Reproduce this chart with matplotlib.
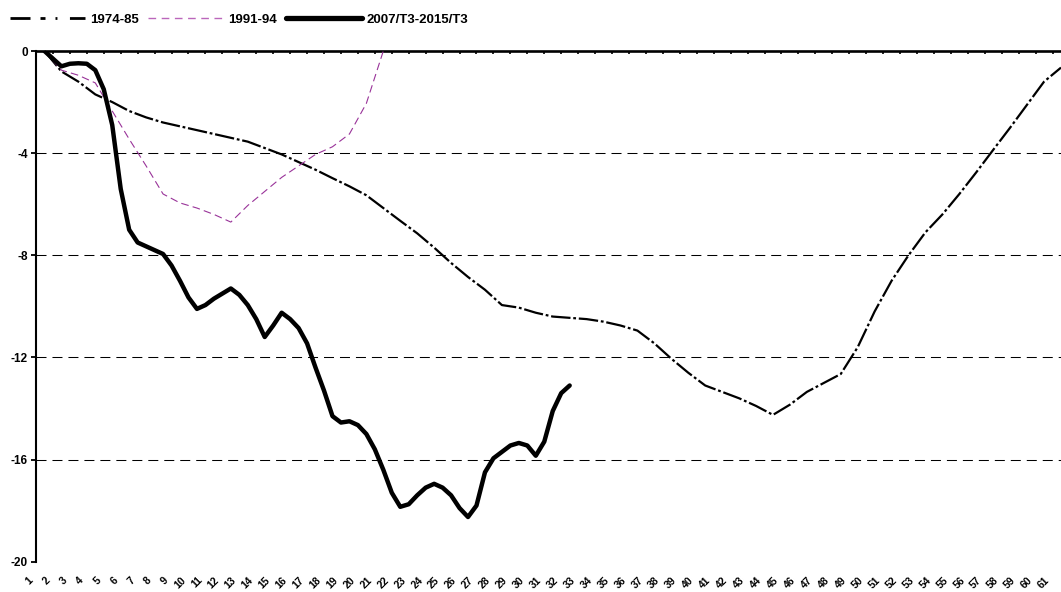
import numpy as np
import matplotlib
matplotlib.use("Agg")
import matplotlib.pyplot as plt
from matplotlib.lines import Line2D
from matplotlib.transforms import ScaledTranslation

plt.rcParams['font.family'] = ['Liberation Sans', 'DejaVu Sans']
plt.rcParams['font.weight'] = 'bold'
plt.rcParams['lines.scale_dashes'] = False

# ─── data ─────────────────────────────────────────────────────────────────
categories = list(range(1, 62))

# 1974-85, one value per category
s7485 = [0.0, -0.8, -1.2, -1.7, -2.0, -2.35, -2.6, -2.8, -2.95, -3.1,
         -3.25, -3.4, -3.55, -3.8, -4.05, -4.35, -4.65, -4.98, -5.3, -5.65,
         -6.15, -6.65, -7.14, -7.7, -8.3, -8.85, -9.35, -9.95, -10.05, -10.25,
         -10.4, -10.45, -10.5, -10.6, -10.75, -10.95, -11.45, -12.05, -12.6, -13.1,
         -13.35, -13.6, -13.9, -14.25, -13.85, -13.35, -13.0, -12.65, -11.6, -10.2,
         -9.0, -8.0, -7.1, -6.4, -5.6, -4.75, -3.87, -3.0, -2.1, -1.2,
         -0.65]

# 1991-94, categories 1..21
s9194 = [0.0, -0.75, -0.95, -1.25, -2.35, -3.45, -4.5, -5.6, -5.95, -6.15,
         -6.4, -6.7, -6.05, -5.5, -4.95, -4.5, -4.05, -3.75, -3.25, -2.05,
         0.0]

# 2007/T3-2015/T3, read every half category
x0715 = [1 + 0.5 * k for k in range(63)]
s0715 = [0.0, -0.3, -0.6, -0.5, -0.48, -0.5, -0.75, -1.5, -2.9, -5.4,
         -7.0, -7.5, -7.65, -7.8, -7.95, -8.4, -9.0, -9.65, -10.1, -9.95,
         -9.7, -9.5, -9.3, -9.55, -9.95, -10.5, -11.2, -10.75, -10.25, -10.5,
         -10.85, -11.45, -12.4, -13.3, -14.3, -14.55, -14.5, -14.65, -15.0, -15.6,
         -16.4, -17.3, -17.85, -17.75, -17.4, -17.1, -16.95, -17.1, -17.4, -17.9,
         -18.25, -17.8, -16.5, -15.95, -15.7, -15.45, -15.35, -15.45, -15.85, -15.3,
         -14.1, -13.4, -13.1]

yticks = [0, -4, -8, -12, -16, -20]
labels = ["1974-85", "1991-94", "2007/T3-2015/T3"]

# ─── figure ───────────────────────────────────────────────────────────────
fig = plt.figure(figsize=(10.61, 5.92), dpi=100)
ax = fig.add_axes([36 / 1061, 1 - 561.7 / 592, 1 - 36 / 1061, (561.7 - 51) / 592])

for y in yticks[1:-1]:
    ax.axhline(y, color="black", lw=0.75, dashes=(7.2, 4.3), zorder=1)

ax.plot(categories, s7485, color="black", lw=1.6, dashes=(14, 2, 2, 2),
        clip_on=False, zorder=3)
ax.plot(categories[:len(s9194)], s9194, color="#993399", lw=0.8,
        dashes=(5.5, 3), zorder=3)
ax.plot(x0715, s0715, color="black", lw=3.2, solid_capstyle="round",
        solid_joinstyle="round", zorder=4)

ax.set_xlim(0.5, 61.0)
ax.set_ylim(-20, 0)

for side in ("right", "bottom"):
    ax.spines[side].set_visible(False)
ax.spines["left"].set_linewidth(1.5)
ax.spines["top"].set_linewidth(1.9)

ax.set_yticks(yticks)
ax.set_yticklabels([str(v) for v in yticks], fontsize=8.5, fontweight="bold")
ax.tick_params(axis="y", direction="out", length=3.8, width=1.3, pad=2)

ax.set_xticks(categories)
ax.set_xticklabels([str(c) for c in categories], rotation=45, ha="right",
                   va="center", rotation_mode="anchor", fontsize=7.5,
                   fontweight="bold")
ax.tick_params(axis="x", which="major", length=0, pad=12)
ax.set_xticks([c + 0.5 for c in categories[:-1]], minor=True)
ax.tick_params(axis="x", which="minor", top=True, bottom=False,
               direction="in", length=2.2, width=1.2)

shift = ScaledTranslation(-13 / 100, 0, fig.dpi_scale_trans)
for lbl in ax.get_xticklabels():
    lbl.set_transform(lbl.get_transform() + shift)

handles = [
    Line2D([], [], color="black", lw=2, dashes=(14.4, 7.2, 3.6, 7.2, 1.4, 9)),
    Line2D([], [], color="#bb66bb", lw=1, dashes=(5.5, 4)),
    Line2D([], [], color="black", lw=3.8, solid_capstyle="round"),
]
fig.legend(handles, labels, loc="center left",
           bbox_to_anchor=(10 / 1061, 1 - 20 / 592),
           ncol=3, frameon=False, handlelength=5.7, handletextpad=0.38,
           columnspacing=0.7, borderpad=0, borderaxespad=0,
           prop={"size": 9.5, "weight": "bold"})

fig.savefig("out.png", dpi=100)
